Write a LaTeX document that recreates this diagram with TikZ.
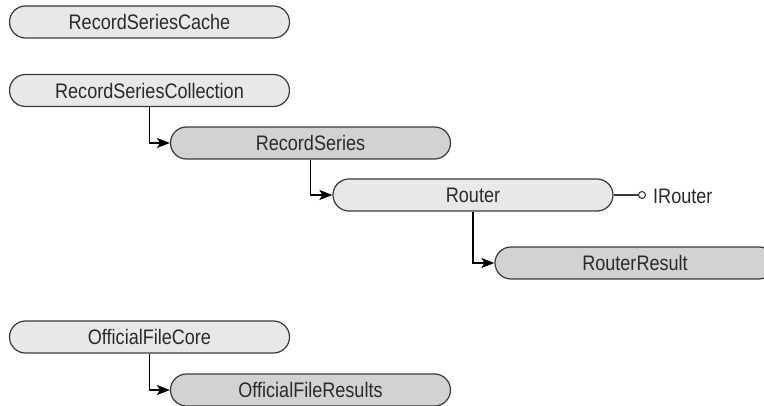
\documentclass[tikz,border=0pt]{standalone}
\usepackage{fontspec}
\setmainfont{Liberation Sans}[FakeStretch=0.86]
\usetikzlibrary{shapes.misc,arrows.meta}

\definecolor{boxline}{HTML}{3A3A3A}
\definecolor{lightfill}{HTML}{E8E8E8}
\definecolor{darkfill}{HTML}{D2D2D2}
\definecolor{inktext}{HTML}{2A2A2A}

\tikzset{
  classbox/.style={rounded rectangle, draw=boxline, line width=1.2pt,
    minimum width=280pt, minimum height=32pt, inner sep=0pt,
    text=inktext, font=\fontsize{21pt}{25pt}\selectfont},
  basebox/.style={classbox, fill=lightfill},
  childbox/.style={classbox, fill=darkfill},
  nest/.style={draw=black, line width=1.6pt,
    -{Stealth[length=13pt,width=10pt,inset=3pt]}},
  lolly/.style={circle, draw=boxline, line width=1.1pt, fill=white,
    minimum size=7pt, inner sep=0pt},
  plain/.style={text=inktext, font=\fontsize{21pt}{25pt}\selectfont}
}

\begin{document}
\begin{tikzpicture}[x=1pt, y=-1pt]
  \useasboundingbox (0,0) rectangle (764,406);
  \clip (0,0) rectangle (764,406);

  % class boxes
  \node[basebox]  (cache)  at (149.5,22)  {RecordSeriesCache};
  \node[basebox]  (coll)   at (149.5,90.5) {RecordSeriesCollection};
  \node[childbox] (series) at (310.5,143) {RecordSeries};
  \node[basebox]  (router) at (473,195)   {Router};
  \node[childbox] (result) at (635,263)   {RouterResult};
  \node[basebox]  (core)   at (149.5,337) {OfficialFileCore};
  \node[childbox] (ofr)    at (310.5,390) {OfficialFileResults};

  % interface lollipop
  \node[lolly] (iface) at (642,195) {};
  \node[plain, anchor=west, inner sep=0pt] (iname) at (653,196) {IRouter};
  \draw[draw=boxline, line width=1.2pt] (router.east) -- (iface.west);

  % nesting connectors
  \draw[nest] (coll.south)   |- (series.west);
  \draw[nest] (series.south) |- (router.west);
  \draw[nest] (router.south) |- (result.west);
  \draw[nest] (core.south)   |- (ofr.west);
\end{tikzpicture}
\end{document}
